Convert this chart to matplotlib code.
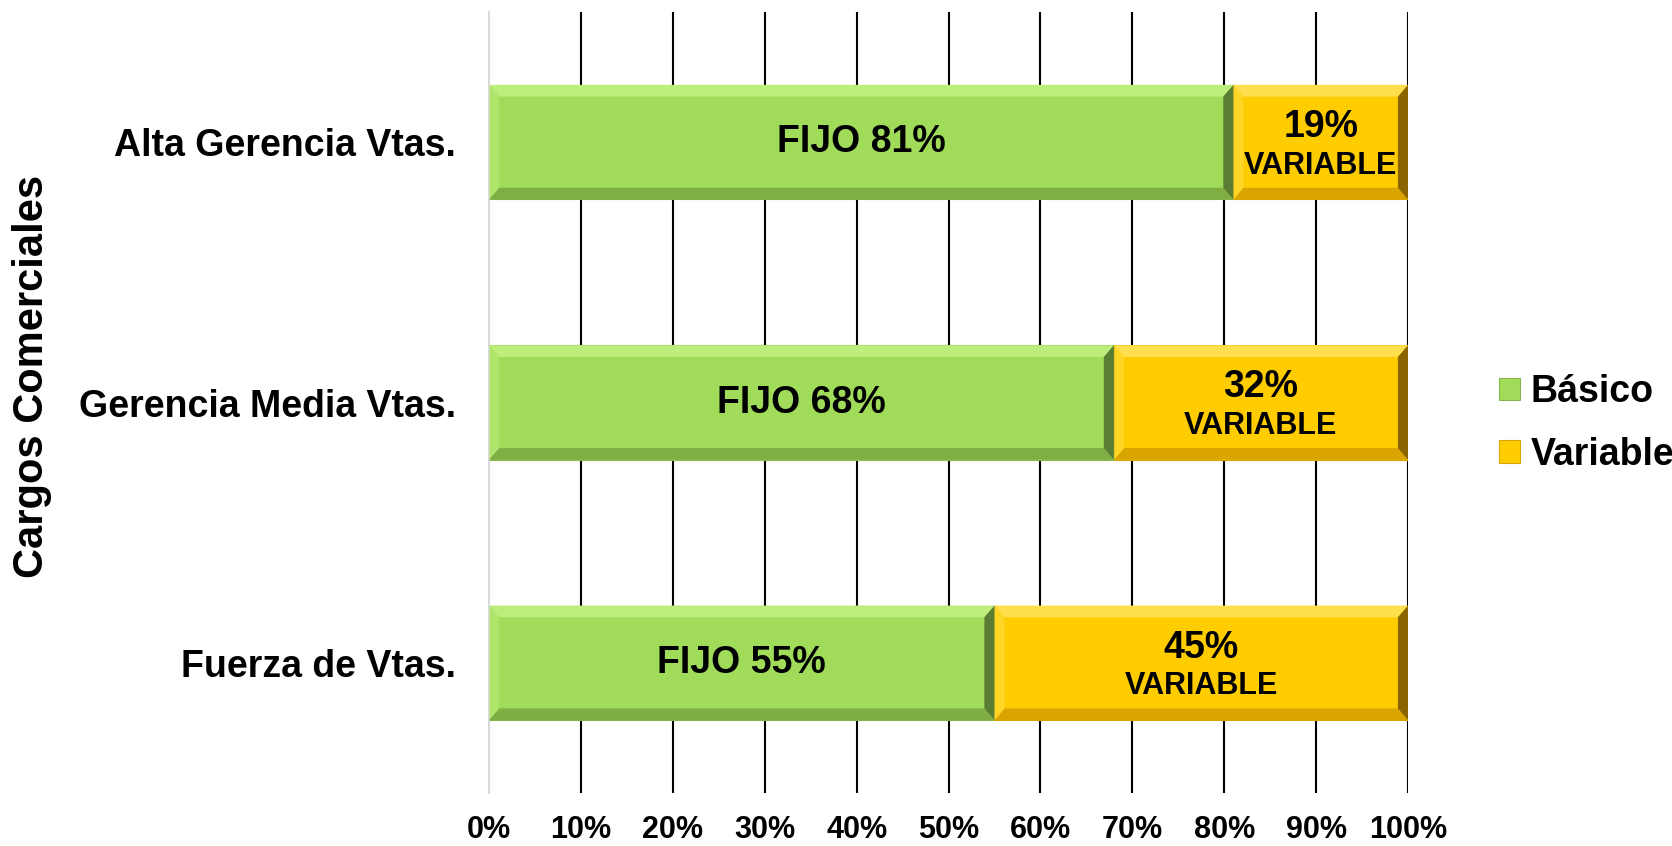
import matplotlib
matplotlib.use("Agg")
import matplotlib.pyplot as plt
from matplotlib.patches import Polygon
import numpy as np

# data, bottom to top as drawn
cargos = ['Fuerza de Vtas.', 'Gerencia Media Vtas.', 'Alta Gerencia Vtas.']
basico = [55, 68, 81]
variable = [45, 32, 19]
x_ticks = [0, 10, 20, 30, 40, 50, 60, 70, 80, 90, 100]

plt.rcParams['font.family'] = ['Liberation Sans', 'DejaVu Sans']
plt.rcParams['font.weight'] = 'bold'

GREEN = '#a0dc5a'
YELLOW = '#ffcc00'


def add_bevel(ax, bar, light, dark, right_dark, bx=1.1, by=0.045):
    # fake Excel-style bevel: light top strip, dark bottom and right strips
    x0, y0 = bar.get_x(), bar.get_y()
    x1, y1 = x0 + bar.get_width(), y0 + bar.get_height()
    top = [(x0, y1), (x1, y1), (x1 - bx, y1 - by), (x0 + bx, y1 - by)]
    bottom = [(x0, y0), (x1, y0), (x1 - bx, y0 + by), (x0 + bx, y0 + by)]
    right = [(x1, y0), (x1, y1), (x1 - bx, y1 - by), (x1 - bx, y0 + by)]
    left = [(x0, y0), (x0, y1), (x0 + bx, y1 - by), (x0 + bx, y0 + by)]
    ax.add_patch(Polygon(top, closed=True, color=light, lw=0, zorder=3))
    ax.add_patch(Polygon(bottom, closed=True, color=dark, lw=0, zorder=3))
    ax.add_patch(Polygon(left, closed=True, color=light, lw=0, alpha=0.5, zorder=3))
    ax.add_patch(Polygon(right, closed=True, color=right_dark, lw=0, zorder=3))


fig = plt.figure(figsize=(16.72, 8.46), dpi=100)
ax = fig.add_axes([0.2925, 0.0626, 0.5496, 0.9232])

y = np.arange(len(cargos))
h = 0.44
b1 = ax.barh(y, basico, height=h, color=GREEN, edgecolor='#8ab64f', lw=0.8,
             label='Básico', zorder=2)
b2 = ax.barh(y, variable, left=basico, height=h, color=YELLOW, edgecolor='#d9a800',
             lw=0.8, label='Variable', zorder=2)

for bar in b1:
    add_bevel(ax, bar, '#bdee7c', '#7fae45', '#5a7d34')
for bar in b2:
    add_bevel(ax, bar, '#ffdf4d', '#d9a400', '#8a6400')

for i in range(len(cargos)):
    ax.text(basico[i] / 2, y[i], f'FIJO {basico[i]}%', ha='center', va='center',
            fontsize=27, fontweight='bold', zorder=5)
    xc = basico[i] + variable[i] / 2
    ax.annotate(f'{variable[i]}%', (xc, y[i]), xytext=(0, 11), textcoords='offset points',
                ha='center', va='center', fontsize=27, fontweight='bold', zorder=5)
    ax.annotate('VARIABLE', (xc, y[i]), xytext=(0, -17), textcoords='offset points',
                ha='center', va='center', fontsize=22, fontweight='bold', zorder=5)

ax.set_xlim(0, 100)
ax.set_ylim(-0.5, 2.5)
ax.set_xticks(x_ticks)
ax.set_xticklabels([f'{t}%' for t in x_ticks], fontsize=22, fontweight='bold')
ax.set_yticks(y)
ax.set_yticklabels(cargos, fontsize=27, fontweight='bold')
ax.tick_params(axis='both', length=0)
ax.tick_params(axis='x', pad=16)
ax.tick_params(axis='y', pad=24)

ax.set_axisbelow(True)
ax.grid(axis='x', color='black', lw=1.5)
ax.xaxis.get_gridlines()[0].set_visible(False)
for s in ['top', 'right', 'bottom']:
    ax.spines[s].set_visible(False)
ax.spines['left'].set_color('#d9d9d9')
ax.spines['left'].set_linewidth(1.5)

ax.set_ylabel('Cargos Comerciales', fontsize=30, fontweight='bold')
ax.yaxis.set_label_coords(-0.476, 0.533)

fig.legend(handles=[b1, b2], labels=['Básico', 'Variable'], loc='center left',
           bbox_to_anchor=(0.8965, 0.4994), frameon=False,
           prop={'weight': 'bold', 'size': 27}, borderpad=0, borderaxespad=0,
           handlelength=0.55, handleheight=0.55, handletextpad=0.3, labelspacing=0.7)

fig.savefig('out.png', dpi=100)
